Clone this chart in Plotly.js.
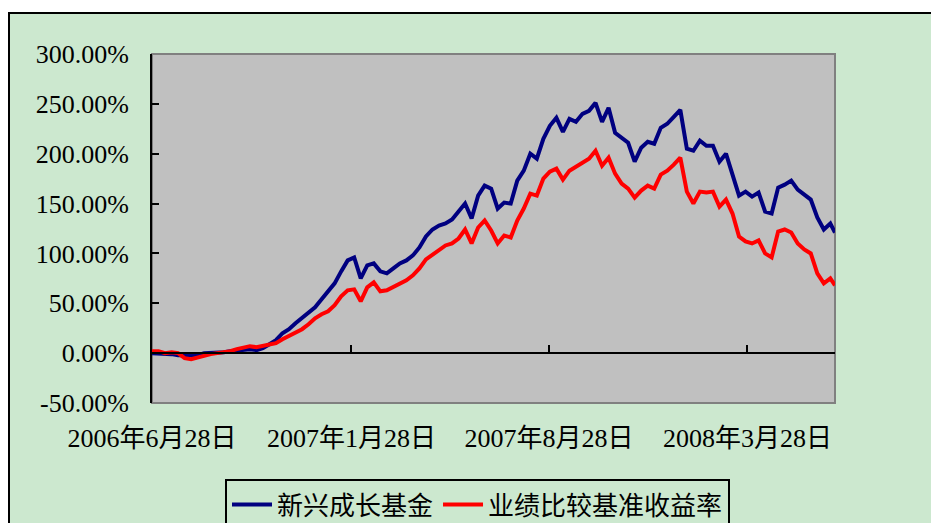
<!DOCTYPE html>
<html>
<head>
<meta charset="utf-8">
<script src="https://cdn.plot.ly/plotly-3.0.1.min.js"></script>
<style>html,body{margin:0;padding:0;background:#fff;}#chart{width:931px;height:523px;}</style>
</head>
<body>
<div id="chart"></div>
<script>
const seriesNames = ["新兴成长基金", "业绩比较基准收益率"];
const dates = [
"2006-06-28","2006-07-05","2006-07-12","2006-07-19","2006-07-26","2006-08-02","2006-08-09","2006-08-16","2006-08-23","2006-08-30",
"2006-09-06","2006-09-13","2006-09-20","2006-09-27","2006-10-04","2006-10-11","2006-10-18","2006-10-25","2006-11-01","2006-11-08",
"2006-11-15","2006-11-22","2006-11-29","2006-12-06","2006-12-13","2006-12-20","2006-12-27","2007-01-03","2007-01-10","2007-01-17",
"2007-01-24","2007-01-31","2007-02-07","2007-02-14","2007-02-21","2007-02-28","2007-03-07","2007-03-14","2007-03-21","2007-03-28",
"2007-04-04","2007-04-11","2007-04-18","2007-04-25","2007-05-02","2007-05-09","2007-05-16","2007-05-23","2007-05-30","2007-06-06",
"2007-06-13","2007-06-20","2007-06-27","2007-07-04","2007-07-11","2007-07-18","2007-07-25","2007-08-01","2007-08-08","2007-08-15",
"2007-08-22","2007-08-29","2007-09-05","2007-09-12","2007-09-19","2007-09-26","2007-10-03","2007-10-10","2007-10-17","2007-10-24",
"2007-10-31","2007-11-07","2007-11-14","2007-11-21","2007-11-28","2007-12-05","2007-12-12","2007-12-19","2007-12-26","2008-01-02",
"2008-01-09","2008-01-16","2008-01-23","2008-01-30","2008-02-06","2008-02-13","2008-02-20","2008-02-27","2008-03-05","2008-03-12",
"2008-03-19","2008-03-26","2008-04-02","2008-04-09","2008-04-16","2008-04-23","2008-04-30","2008-05-07","2008-05-14","2008-05-21",
"2008-05-28","2008-06-04","2008-06-11","2008-06-18","2008-06-25","2008-06-30"
];
const fundReturn = [
0,0,-1,-1,-2,-2,-3,-2,0,0,
0,1,2,3,4,4,3,5,9,13,
20,24,30,35,41,46,54,62,70,82,
93,96,75,88,90,82,80,85,90,93,
98,106,117,124,128,130,134,142,150,135,
158,168,165,145,151,150,173,183,200,195,
215,228,236,222,235,232,240,243,251,232,
246,221,216,211,192,206,212,210,226,230,
237,244,205,203,213,208,208,192,200,180,
158,162,157,161,142,140,166,169,173,164,
159,154,136,124,130,121
];
const benchmarkReturn = [
2,2,0,1,0,-5,-6,-4,-2,-1,
0,1,2,4,6,7,6,7,8,10,
14,17,21,24,29,35,39,42,48,57,
63,64,52,66,71,62,63,66,70,73,
78,85,94,99,104,108,110,115,124,110,
126,133,123,110,118,116,133,145,160,158,
175,182,185,174,183,187,190,195,203,188,
196,180,170,165,156,163,168,165,179,183,
189,196,162,150,162,161,162,147,154,140,
117,112,110,113,100,96,122,124,121,110,
104,100,80,70,75,68
];
const tickDates = ["2006-06-28","2007-01-28","2007-08-28","2008-03-28"];
const tickLabels = ["2006年6月28日","2007年1月28日","2007年8月28日","2008年3月28日"];
const yTicks = [-50,0,50,100,150,200,250,300];
const yTickLabels = ["-50.00%","0.00%","50.00%","100.00%","150.00%","200.00%","250.00%","300.00%"];

const FONT = {family: "'Liberation Serif', 'Noto Sans CJK SC', serif", size: 26, color: "#000"};

const traces = [
  {x: dates, y: fundReturn, name: seriesNames[0], type: "scatter", mode: "lines",
   line: {color: "#000080", width: 4}},
  {x: dates, y: benchmarkReturn, name: seriesNames[1], type: "scatter", mode: "lines",
   line: {color: "#FF0000", width: 4}}
];

const W = 683, H = 349; // plot area size in px
const layout = {
  width: 931, height: 523,
  margin: {l: 152, r: 96, t: 54, b: 120, pad: 0, autoexpand: false},
  paper_bgcolor: "#ffffff",
  plot_bgcolor: "#C0C0C0",
  font: FONT,
  showlegend: true,
  xaxis: {
    type: "date",
    range: ["2006-06-28", "2008-06-30"],
    anchor: "free",
    position: 50/350,
    showline: true, linecolor: "#000", linewidth: 2,
    ticks: "inside", ticklen: 7, tickwidth: 2, tickcolor: "#000",
    tickvals: tickDates, ticktext: tickLabels,
    ticklabelstandoff: 62,
    showgrid: false, zeroline: false,
    tickfont: FONT,
    automargin: false
  },
  yaxis: {
    range: [-50, 300],
    tickvals: yTicks, ticktext: yTickLabels,
    showline: true, linecolor: "#000", linewidth: 2,
    ticks: "inside", ticklen: 7, tickwidth: 2, tickcolor: "#000",
    ticklabelstandoff: 16,
    showgrid: false, zeroline: false,
    tickfont: FONT,
    automargin: false
  },
  legend: {
    orientation: "h",
    x: (225 - 152) / W, xanchor: "left",
    y: (403 - 479) / H, yanchor: "top",
    bordercolor: "#000", borderwidth: 2,
    bgcolor: "rgba(0,0,0,0)",
    font: FONT,
    itemwidth: 40
  },
  shapes: [
    {type: "rect", xref: "paper", yref: "paper", layer: "below",
     x0: (9 - 152) / W, x1: (980 - 152) / W,
     y0: (403 - 580) / H, y1: (403 - 13) / H,
     fillcolor: "#CCE8CF", line: {color: "#000", width: 2}},
    {type: "rect", xref: "x domain", yref: "y domain", layer: "below",
     x0: 0, x1: 1, y0: 0, y1: 1,
     fillcolor: "#C0C0C0", line: {color: "#808080", width: 2}}
  ]
};

Plotly.newPlot("chart", traces, layout, {displayModeBar: false, staticPlot: true});
</script>
</body>
</html>
